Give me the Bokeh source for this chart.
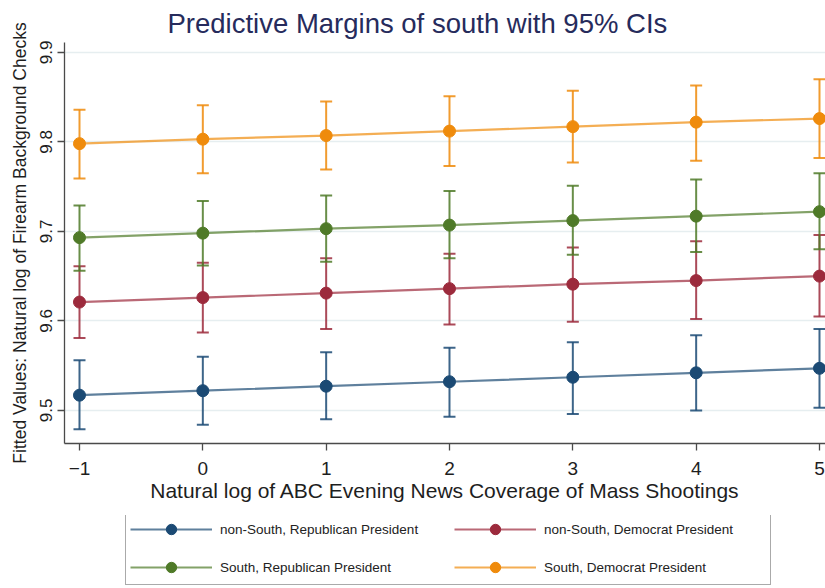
import numpy as np
from bokeh.plotting import figure
from bokeh.layouts import column
from bokeh.models import (ColumnDataSource, Whisker, TeeHead, Legend, LegendItem,
                          FixedTicker, Range1d)
from bokeh.embed import file_html
from bokeh.resources import INLINE

# ---- data ----
x_vals = [-1, 0, 1, 2, 3, 4, 5]

ns_rep = [9.517, 9.522, 9.527, 9.532, 9.537, 9.542, 9.547]
ns_rep_lo = [9.479, 9.484, 9.490, 9.493, 9.496, 9.500, 9.503]
ns_rep_hi = [9.556, 9.560, 9.565, 9.570, 9.576, 9.584, 9.591]

ns_dem = [9.621, 9.626, 9.631, 9.636, 9.641, 9.645, 9.650]
ns_dem_lo = [9.581, 9.587, 9.591, 9.596, 9.599, 9.602, 9.605]
ns_dem_hi = [9.661, 9.665, 9.670, 9.675, 9.682, 9.689, 9.696]

s_rep = [9.693, 9.698, 9.703, 9.707, 9.712, 9.717, 9.722]
s_rep_lo = [9.656, 9.662, 9.666, 9.670, 9.674, 9.677, 9.680]
s_rep_hi = [9.729, 9.734, 9.740, 9.745, 9.751, 9.758, 9.765]

s_dem = [9.798, 9.803, 9.807, 9.812, 9.817, 9.822, 9.826]
s_dem_lo = [9.759, 9.765, 9.769, 9.773, 9.777, 9.779, 9.782]
s_dem_hi = [9.836, 9.841, 9.845, 9.851, 9.857, 9.863, 9.870]

series_labels = ["non-South, Republican President", "non-South, Democrat President",
                 "South, Republican President", "South, Democrat President"]
series_colors = ["#1b4a74", "#9c2a3c", "#4f7a28", "#ef8b0c"]

x_ticks = [-1, 0, 1, 2, 3, 4, 5]
y_ticks = [9.5, 9.6, 9.7, 9.8, 9.9]

FONT = "Liberation Sans"

# ---------------- main chart ----------------
p = figure(width=825, height=515, output_backend="svg", toolbar_location=None,
           x_range=Range1d(-1.1216, 5.0487), y_range=Range1d(9.463, 9.911),
           min_border_left=64, min_border_right=0, min_border_top=42,
           min_border_bottom=72)

p.background_fill_color = "white"
p.border_fill_color = "white"
p.outline_line_color = None

p.title.text = "Predictive Margins of south with 95% CIs"
p.title.text_font = FONT
p.title.text_font_size = "27.5px"
p.title.text_font_style = "normal"
p.title.text_color = "#262b5c"
p.title.align = "left"
p.title.offset = 103
p.title.standoff = 8

p.xgrid.grid_line_color = None
p.ygrid.ticker = FixedTicker(ticks=y_ticks)
p.ygrid.grid_line_color = "#e6eef0"
p.ygrid.grid_line_width = 1.5

p.xaxis.ticker = FixedTicker(ticks=x_ticks)
p.yaxis.ticker = FixedTicker(ticks=y_ticks)
for ax in (p.xaxis[0], p.yaxis[0]):
    ax.axis_line_color = "#4a4a4a"
    ax.axis_line_width = 1.3
    ax.major_tick_line_color = "#4a4a4a"
    ax.major_tick_line_width = 1.3
    ax.major_tick_out = 7
    ax.major_tick_in = 0
    ax.minor_tick_line_color = None
    ax.major_label_text_font = FONT
    ax.major_label_text_color = "#1e1e1e"
    ax.axis_label_text_font = FONT
    ax.axis_label_text_font_style = "normal"
    ax.axis_label_text_color = "#1e1e1e"

p.xaxis.major_label_text_font_size = "19px"
p.xaxis.major_label_standoff = 11
p.xaxis.axis_label = "Natural log of ABC Evening News Coverage of Mass Shootings"
p.xaxis.axis_label_text_font_size = "21px"
p.xaxis.axis_label_standoff = 1

p.yaxis.major_label_text_font_size = "17px"
p.yaxis.major_label_orientation = "vertical"
p.yaxis.major_label_standoff = 5
p.yaxis.axis_label = "Fitted Values: Natural log of Firearm Background Checks"
p.yaxis.axis_label_text_font_size = "17.5px"
p.yaxis.axis_label_standoff = 8

series = [
    (ns_rep, ns_rep_lo, ns_rep_hi),
    (ns_dem, ns_dem_lo, ns_dem_hi),
    (s_rep, s_rep_lo, s_rep_hi),
    (s_dem, s_dem_lo, s_dem_hi),
]

for (yv, lo, hi), col in zip(series, series_colors):
    src = ColumnDataSource(dict(x=x_vals, y=yv, lo=lo, hi=hi))
    w = Whisker(source=src, base="x", lower="lo", upper="hi", dimension="height",
                line_color=col, line_width=2, line_alpha=0.85,
                upper_head=TeeHead(size=12, line_color=col, line_width=2, line_alpha=0.85),
                lower_head=TeeHead(size=12, line_color=col, line_width=2, line_alpha=0.85))
    p.add_layout(w)
    p.line("x", "y", source=src, line_color=col, line_width=2.2, line_alpha=0.7)
    p.scatter("x", "y", source=src, size=12, fill_color=col, line_color=col,
              marker="circle")

# ---------------- legend strip ----------------
lg = figure(width=825, height=73, output_backend="svg", toolbar_location=None,
            x_axis_location=None, y_axis_location=None,
            x_range=Range1d(0, 1), y_range=Range1d(0, 1),
            min_border_left=0, min_border_right=0, min_border_top=0,
            min_border_bottom=0)
lg.outline_line_color = None
lg.background_fill_color = "white"
lg.border_fill_color = "white"
lg.xgrid.visible = False
lg.ygrid.visible = False

items = []
for lab, col in zip(series_labels, series_colors):
    # key-only renderers: one non-finite point, so nothing is drawn in the strip
    ksrc = ColumnDataSource(dict(x=np.array([np.nan]), y=np.array([np.nan])))
    ln = lg.line("x", "y", source=ksrc, line_color=col, line_width=2.2, line_alpha=0.7)
    sc = lg.scatter("x", "y", source=ksrc, size=12, fill_color=col, line_color=col,
                    marker="circle")
    items.append(LegendItem(label=lab, renderers=[ln, sc]))

legend = Legend(items=items, orientation="horizontal", ncols=2,
                location=(61, 3), glyph_width=82, glyph_height=26,
                label_height=26, label_width=222, label_standoff=8,
                spacing=12, padding=4, margin=0,
                label_text_font=FONT, label_text_font_size="13.5px",
                label_text_color="#222222",
                border_line_color="#555555", border_line_width=1.5,
                background_fill_color="white")
lg.add_layout(legend, "center")

layout = column(p, lg, spacing=0)
open("out.html", "w").write(file_html(layout, INLINE))
